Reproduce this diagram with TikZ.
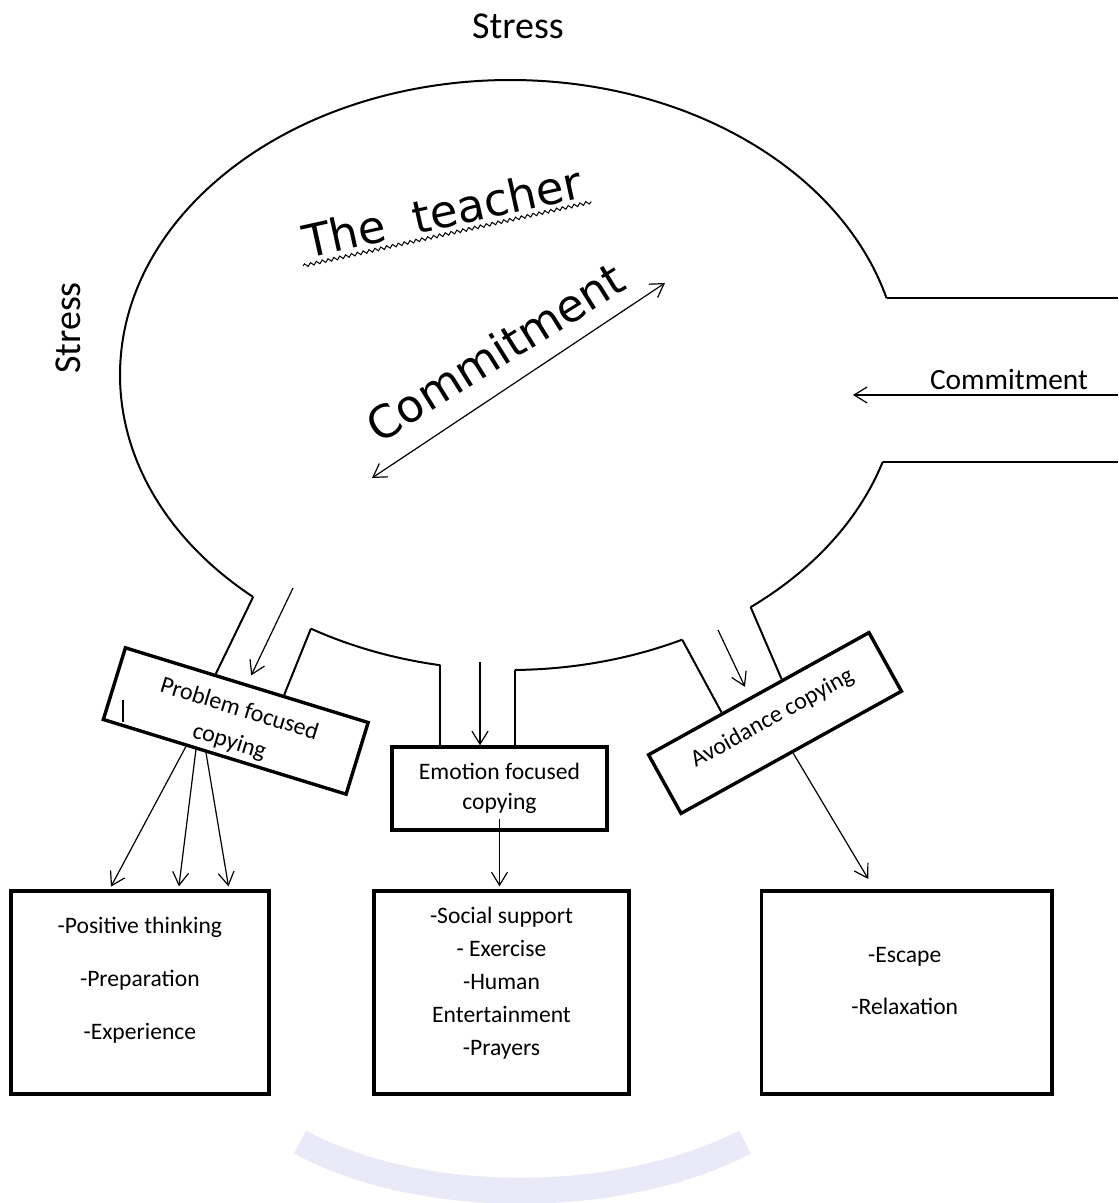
\documentclass[tikz,border=0pt]{standalone}
\usepackage{fontspec}
\setmainfont{Carlito}
\newfontfamily\dejavu{DejaVu Sans}
\usetikzlibrary{arrows.meta,calc,decorations.pathmorphing}

\definecolor{filigrana}{RGB}{233,233,248}

\tikzset{
  parete/.style={line width=1pt},
  freccia/.style={line width=0.6pt,-{Straight Barb[length=6.5pt,width=8pt]}},
  doppia/.style={line width=0.6pt,{Straight Barb[length=6.5pt,width=8pt]}-{Straight Barb[length=6.5pt,width=8pt]}},
  scatola/.style={draw,line width=1.7pt,inner sep=0pt},
  ellisse/.style={x radius=390,y radius=295},
}

\begin{document}
\begin{tikzpicture}[x=0.5pt,y=-0.5pt]
        \useasboundingbox (0,0) rectangle (1118,1203);
        % Filigrana
        \draw[line width=13pt,color=filigrana] (300,1142) .. controls (420,1207) and (620,1207) .. (745,1142);

        % Ellisse con le aperture
        \coordinate (c) at (510,375);
        \coordinate (bordo) at (1118,0);
        \draw[parete] (c) ++(131.2:390 and 295) coordinate (pa) arc[ellisse,start angle=131.2,end angle=344.9] coordinate (da);
        \draw[parete] (c) ++(120.7:390 and 295) coordinate (pb) arc[ellisse,start angle=120.7,end angle=100.3] coordinate (eb);
        \draw[parete] (c) ++(89.3:390 and 295) coordinate (ec) arc[ellisse,start angle=89.3,end angle=63.8] coordinate (ac);
        \draw[parete] (c) ++(51.9:390 and 295) coordinate (ad) arc[ellisse,start angle=51.9,end angle=17.1] coordinate (db);
        \draw[parete] (da) -- (da -| bordo);
        \draw[parete] (db) -- (db -| bordo);

        % Testi
        \node[font=\fontsize{19}{22}\selectfont] (stress1) at (518,26) {Stress};
        \node[font=\fontsize{19}{22}\selectfont,rotate=90] (stress2) at (68,328) {Stress};
        \node[font=\dejavu\fontsize{22.5}{26}\selectfont,rotate=12.5,anchor=base,inner sep=2.5pt] (insegnante) at (446,228) {The~~teacher};
        \draw[line width=0.5pt,decorate,decoration={snake,amplitude=0.8pt,segment length=3pt}] (insegnante.south west) -- (insegnante.south east);
        \node[font=\dejavu\fontsize{22.5}{26}\selectfont,rotate=32,anchor=base] (impegno) at (504,366) {Commitment};
        \coordinate (ca) at (372,478);
        \coordinate (cb) at (665,283);
        \draw[doppia] (ca) -- (cb);

        \coordinate (ic) at (1118,395);
        \coordinate (fc) at (853,395);
        \draw[freccia] (ic) -- (fc);
        \node[font=\fontsize{14.7}{17}\selectfont,anchor=base] (tcommit) at (1009,389) {Commitment};

        % Strategie di coping
        \node[scatola,rotate=-17.1,minimum width=127pt,minimum height=37.5pt] (problema) at (235.75,721) {};
        \node[rotate=-17.1,align=center,font=\fontsize{12}{17}\selectfont] (tproblema) at ($(problema.center)!0.13!(problema.south)$) {Problem focused\\copying};
        \draw[line width=0.8pt] (123,700) -- (123,722);
        \node[scatola,minimum width=107.5pt,minimum height=41.5pt,align=center,font=\fontsize{11.8}{15}\selectfont] (emozione) at (499.5,788.5) {Emotion focused\\copying};
        \node[scatola,rotate=29,minimum width=126pt,minimum height=33.5pt] (evitamento) at (775,723) {};
        \node[rotate=29,font=\fontsize{12}{14}\selectfont] (tevitamento) at ($(evitamento.center)!0.15!(evitamento.north)$) {Avoidance copying};

        \draw[parete] (pa) -- ($(problema.north west)!0.372!(problema.north east)$);
        \draw[parete] (pb) -- ($(problema.north west)!0.650!(problema.north east)$);
        \draw[parete] (eb) -- (eb |- emozione.north);
        \draw[parete] (ec) -- (ec |- emozione.north);
        \draw[parete] (ac) -- ($(evitamento.north west)!0.337!(evitamento.north east)$);
        \draw[parete] (ad) -- ($(evitamento.north west)!0.606!(evitamento.north east)$);

        \coordinate (ip) at (293,588);
        \coordinate (ie) at (480,662);
        \coordinate (ia) at (718,630);
        \draw[freccia,shorten >=4.5pt] (ip) -- (problema.north);
        \draw[freccia] (ie) -- (ie |- emozione.north);
        \draw[freccia,shorten >=5.5pt] (ia) -- ($(evitamento.north west)!0.463!(evitamento.north east)$);

        % Scatole in basso
        \node[scatola,minimum width=129pt,minimum height=101.5pt] (pensiero) at (139.85,992.5) {};
        \node[scatola,minimum width=127.5pt,minimum height=101.5pt] (sostegno) at (501.5,992.5) {};
        \node[scatola,minimum width=145.25pt,minimum height=101.5pt] (fuga) at (906.75,992.5) {};
        \node[align=center,font=\fontsize{11.8}{26.5}\selectfont] (tpensiero) at ([yshift=6pt]pensiero.center) {-Positive thinking\\-Preparation\\-Experience};
        \node[align=center,font=\fontsize{11.8}{16.5}\selectfont] (tsostegno) at ([yshift=4.75pt]sostegno.center) {-Social support\\- Exercise\\-Human\\Entertainment\\-Prayers};
        \node[align=center,font=\fontsize{11.8}{26}\selectfont] (tfuga) at ([yshift=5.75pt,xshift=-1pt]fuga.center) {-Escape\\-Relaxation};

        \foreach \a/\b in {0.344/0.384,0.385/0.648,0.426/0.841}
          \draw[freccia,shorten >=1.5pt] ($(problema.south west)!\a!(problema.south east)$) -- ($(pensiero.north west)!\b!(pensiero.north east)$);
        \draw[freccia,shorten <=-6.5pt,shorten >=1.5pt] (emozione.south) -- (emozione.south |- sostegno.north);
        \draw[freccia,shorten >=6pt] ($(evitamento.south west)!0.505!(evitamento.south east)$) -- ($(fuga.north west)!0.39!(fuga.north east)$);
    \end{tikzpicture}
\end{document}
